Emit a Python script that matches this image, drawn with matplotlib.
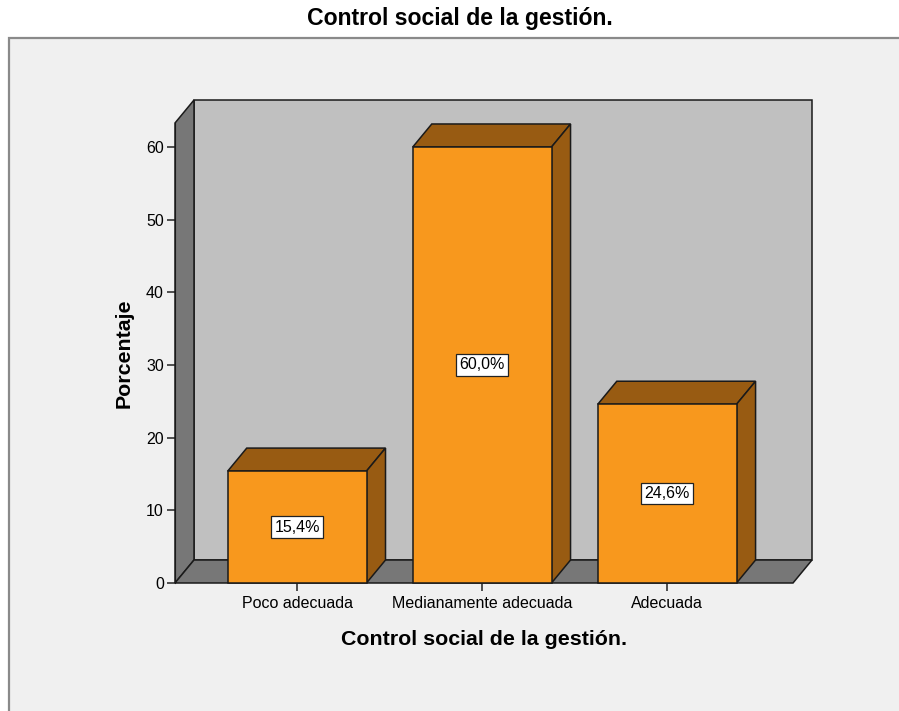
import matplotlib
matplotlib.use("Agg")
import matplotlib.pyplot as plt
from matplotlib.patches import Polygon, Rectangle

# data
categories = ["Poco adecuada", "Medianamente adecuada", "Adecuada"]
percentages = [15.4, 60.0, 24.6]
value_labels = ["15,4%", "60,0%", "24,6%"]
y_ticks = [0, 10, 20, 30, 40, 50, 60]
chart_title = "Control social de la gestión."

plt.rcParams['font.family'] = ['Liberation Sans', 'DejaVu Sans']

W, H = 899, 711
fig = plt.figure(figsize=(W / 100, H / 100), dpi=100)
fig.patch.set_facecolor("white")

# outer grey panel (runs off the right and bottom edges)
fig.patches.append(Rectangle((9 / W, -0.1), 1.2, 0.1 + 1 - 38 / H,
                             transform=fig.transFigure, facecolor="#f0f0f0",
                             edgecolor="#8a8a8a", linewidth=1.6, zorder=-5))
fig.text(460 / W, 1 - 19 / H, chart_title, ha="center", va="center",
         fontsize=16.6, fontweight="bold")

# front plane of the 3d box
ax = fig.add_axes([175 / W, 1 - 583 / H, 618 / W, 460 / H])
ax.set_zorder(2)
ax.patch.set_visible(False)
x0, x1 = -0.66, 2.68
ymax = 63.3
ax.set_xlim(x0, x1)
ax.set_ylim(0, ymax)

# depth offset in data units
dx = 19 / 185
dy = 23 / (460 / ymax)

wall_kw = dict(edgecolor="#1a1a1a", linewidth=1.1, clip_on=False)
ax.add_patch(Polygon([(x0 + dx, dy), (x1 + dx, dy), (x1 + dx, ymax + dy), (x0 + dx, ymax + dy)],
                     facecolor="#c0c0c0", zorder=1, **wall_kw))
ax.add_patch(Polygon([(x0, 0), (x0 + dx, dy), (x0 + dx, ymax + dy), (x0, ymax)],
                     facecolor="#777777", zorder=2, **wall_kw))
ax.add_patch(Polygon([(x0, 0), (x1, 0), (x1 + dx, dy), (x0 + dx, dy)],
                     facecolor="#777777", zorder=2, **wall_kw))

bar_w = 0.75
front_c = "#f8981d"
shade_c = "#985b12"
for i, (v, lab) in enumerate(zip(percentages, value_labels)):
    l, r = i - bar_w / 2, i + bar_w / 2
    ax.add_patch(Polygon([(l, v), (r, v), (r + dx, v + dy), (l + dx, v + dy)],
                         facecolor=shade_c, zorder=3, **wall_kw))
    ax.add_patch(Polygon([(r, 0), (r + dx, dy), (r + dx, v + dy), (r, v)],
                         facecolor=shade_c, zorder=3, **wall_kw))
    ax.add_patch(Polygon([(l, 0), (r, 0), (r, v), (l, v)],
                         facecolor=front_c, zorder=4, **wall_kw))
    ax.text(i, v / 2, lab, ha="center", va="center", fontsize=11.5, zorder=5,
            bbox=dict(boxstyle="square,pad=0.2", facecolor="white",
                      edgecolor="#222222", linewidth=0.9))

for s in ["top", "right", "bottom"]:
    ax.spines[s].set_visible(False)
ax.spines["left"].set_color("#1a1a1a")
ax.spines["left"].set_zorder(6)
ax.set_yticks(y_ticks)
ax.set_xticks(range(len(categories)))
ax.set_xticklabels(categories)
ax.tick_params(axis="both", direction="out", length=6, width=1.2,
               color="#333333", labelsize=11.5, pad=2)
ax.tick_params(axis="x", pad=3)

ax.set_xlabel(chart_title, fontsize=15.4, fontweight="bold", labelpad=14)
ax.set_ylabel("Porcentaje", fontsize=15.4, fontweight="bold", labelpad=9)

fig.savefig("out.png", dpi=100)
